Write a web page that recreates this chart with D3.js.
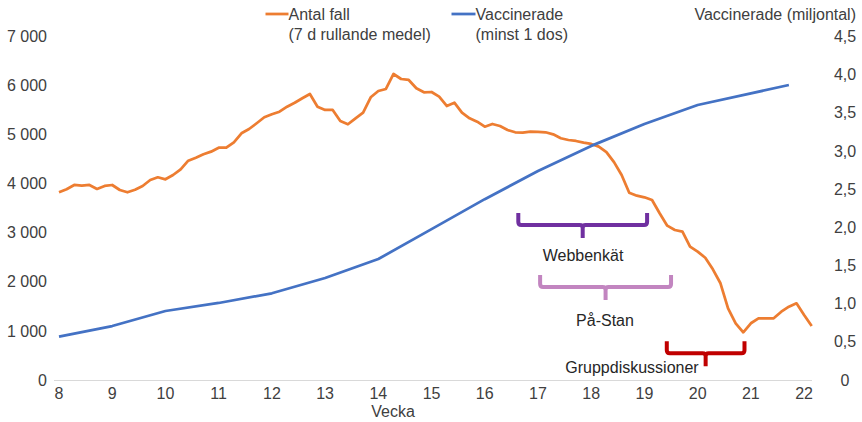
<!DOCTYPE html>
<html><head><meta charset="utf-8">
<script src="https://cdn.jsdelivr.net/npm/d3@7"></script>
<style>
html,body{margin:0;padding:0;background:#fff;}
text{font-family:"Liberation Sans",Arial,sans-serif;}
</style></head>
<body><svg id="c" width="862" height="422"></svg>
<script>
// ---- data ----
const casesStartWeek = 8;            // daily values, first day = week 8
const casesDaily = [3826,3887,3974,3960,3974,3893,3954,3974,3872,3826,3878,3954,4076,4131,4090,4178,4294,4469,4531,4600,4653,4734,4734,4844,5028,5115,5232,5354,5415,5468,5570,5651,5741,5829,5570,5503,5503,5278,5211,5333,5448,5761,5890,5931,6236,6134,6114,5945,5863,5869,5775,5584,5651,5448,5333,5264,5162,5217,5177,5095,5048,5040,5060,5054,5048,5007,4926,4891,4871,4836,4810,4755,4645,4440,4178,3817,3756,3723,3668,3397,3145,3057,3022,2717,2615,2492,2256,1971,1461,1156,972,1156,1257,1257,1257,1392,1494,1563,1325,1100];
const vaccWeeks = [8,9,10,11,12,13,14,15,16,17,18,19,20,21,21.714];
const vaccMillions = [0.567,0.707,0.904,1.009,1.136,1.336,1.585,1.976,2.369,2.737,3.067,3.354,3.603,3.754,3.865];
const weekTicks = [8,9,10,11,12,13,14,15,16,17,18,19,20,21,22];
const leftTicks = [0,1000,2000,3000,4000,5000,6000,7000];
const rightTicks = [0,0.5,1,1.5,2,2.5,3,3.5,4,4.5];
const periodLabels = ["Webbenkät","På-Stan","Gruppdiskussioner"];
const periodStart = [16.63,17.04,19.42];
const periodEnd = [19.05,19.5,20.88];
const legendLabels = [["Antal fall","(7 d rullande medel)"],["Vaccinerade","(minst 1 dos)"]];
const xTitle = "Vecka";
const rightTitle = "Vaccinerade (miljontal)";

// ---- layout ----
const svg = d3.select("#c");
const x = d3.scaleLinear().domain([8, 8 + 99/7]).range([59, 811.7]);
const yL = d3.scaleLinear().domain([0, 7000]).range([380, 36.5]);
const yR = d3.scaleLinear().domain([0, 4.5]).range([380, 36.5]);
const orange = "#ED7D31", blue = "#4472C4";
const periodColors = ["#7030A0","#C285C0","#C00000"];
const bracketY = [225, 287, 353.3];     // horizontal bar pixel level
const labelPos = [[583,255],[605,320],[632,367]];
const txt = "#404040";

// x axis line
svg.append("line").attr("x1",54).attr("x2",812).attr("y1",380.5).attr("y2",380.5)
  .attr("stroke","#d9d9d9").attr("stroke-width",1);

// left ticks
const fmtL = v => d3.format(",")(v).replace(/,/g," ");
svg.append("g").selectAll("text").data(leftTicks).join("text")
  .attr("x",47).attr("y",d=>yL(d)).attr("dy","0.35em").attr("text-anchor","end")
  .attr("font-size",16).attr("fill",txt).text(fmtL);
// right ticks
const fmtR = v => v===0 ? "0" : v.toFixed(1).replace(".",",");
svg.append("g").selectAll("text").data(rightTicks).join("text")
  .attr("x",845).attr("y",d=>yR(d)).attr("dy","0.35em").attr("text-anchor","middle")
  .attr("font-size",16).attr("fill",txt).text(fmtR);
// x ticks
svg.append("g").selectAll("text").data(weekTicks).join("text")
  .attr("x",d=>x(d)).attr("y",393.5).attr("dy","0.35em").attr("text-anchor","middle")
  .attr("font-size",16).attr("fill",txt).text(d=>d);
svg.append("text").attr("x",393).attr("y",411).attr("dy","0.35em").attr("text-anchor","middle")
  .attr("font-size",16).attr("fill",txt).text(xTitle);
svg.append("text").attr("x",856).attr("y",14).attr("dy","0.35em").attr("text-anchor","end")
  .attr("font-size",16).attr("fill",txt).text(rightTitle);

// lines
const orangeData = casesDaily.map((v,i)=>[casesStartWeek + i/7, v]);
svg.append("path").datum(orangeData)
  .attr("d", d3.line().x(d=>x(d[0])).y(d=>yL(d[1])))
  .attr("fill","none").attr("stroke",orange).attr("stroke-width",2.75).attr("stroke-linejoin","round");
const blueData = vaccWeeks.map((w,i)=>[w, vaccMillions[i]]);
svg.append("path").datum(blueData)
  .attr("d", d3.line().x(d=>x(d[0])).y(d=>yR(d[1])))
  .attr("fill","none").attr("stroke",blue).attr("stroke-width",2.75).attr("stroke-linejoin","round");

// brackets
periodLabels.forEach((lab,i)=>{
  const x0 = x(periodStart[i]), x1 = x(periodEnd[i]), xm = (x0+x1)/2, yb = bracketY[i];
  const r = 3;
  const p = d3.path();
  p.moveTo(x0, yb-12);
  p.lineTo(x0, yb-r);
  p.quadraticCurveTo(x0, yb, x0+r, yb);
  p.lineTo(xm-r, yb);
  p.quadraticCurveTo(xm, yb, xm, yb+r);
  p.lineTo(xm, yb+13);
  p.moveTo(xm, yb+r);
  p.quadraticCurveTo(xm, yb, xm+r, yb);
  p.lineTo(x1-r, yb);
  p.quadraticCurveTo(x1, yb, x1, yb-r);
  p.lineTo(x1, yb-12);
  svg.append("path").attr("d",p.toString()).attr("fill","none")
    .attr("stroke",periodColors[i]).attr("stroke-width",4).attr("stroke-linejoin","round");
  svg.append("text").attr("x",labelPos[i][0]).attr("y",labelPos[i][1]).attr("dy","0.35em")
    .attr("text-anchor","middle").attr("font-size",16).attr("fill","#262626").text(lab);
});

// legend
const legX = [[265.5,288.5],[451.5,475.5]];
const legColors = [orange, blue];
legendLabels.forEach((lines,i)=>{
  svg.append("line").attr("x1",legX[i][0]).attr("x2",legX[i][1]).attr("y1",14).attr("y2",14)
    .attr("stroke",legColors[i]).attr("stroke-width",2.75);
  lines.forEach((t,j)=>{
    svg.append("text").attr("x",legX[i][1]).attr("y",14+j*20.3).attr("dy","0.35em")
      .attr("font-size",16).attr("fill",txt).text(t);
  });
});
</script></body></html>
